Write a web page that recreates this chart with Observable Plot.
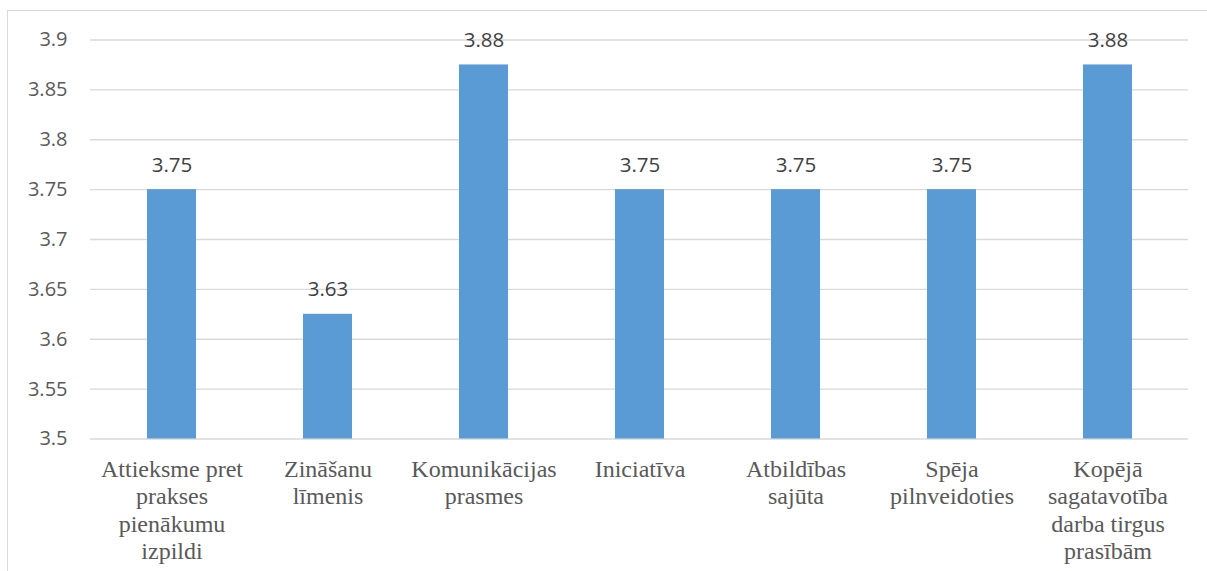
<!DOCTYPE html>
<html>
<head>
<meta charset="utf-8">
<script src="https://cdn.jsdelivr.net/npm/d3@7"></script>
<script src="https://cdn.jsdelivr.net/npm/@observablehq/plot@0.6"></script>
<style>
  html, body { margin: 0; padding: 0; background: #fff; }
  #wrap { position: relative; width: 1207px; height: 571px; overflow: hidden; }
  #frame { position: absolute; left: 7px; top: 10px; width: 1210px; height: 600px; border: 1px solid #d9d9d9; box-sizing: border-box; pointer-events: none; }
  #chart { position: absolute; left: 0; top: 0; }
  #chart g[aria-label="x-axis tick label"] text { font-family: "Liberation Serif", "Times New Roman", serif; }
  #chart g[aria-label="y-axis tick label"] text { font-family: "Open Sans", sans-serif; }
</style>
</head>
<body>
<div id="wrap"><div id="frame"></div><div id="chart"></div></div>
<script>
const categories = [
  "Attieksme pret\nprakses\npienākumu\nizpildi",
  "Zināšanu\nlīmenis",
  "Komunikācijas\nprasmes",
  "Iniciatīva",
  "Atbildības\nsajūta",
  "Spēja\npilnveidoties",
  "Kopējā\nsagatavotība\ndarba tirgus\nprasībām"
];
const values = [3.75, 3.625, 3.875, 3.75, 3.75, 3.75, 3.875];
const yTicks = [3.5, 3.55, 3.6, 3.65, 3.7, 3.75, 3.8, 3.85, 3.9];
const yMin = 3.5, yMax = 3.9;

const data = categories.map((c, i) => ({category: c, value: values[i]}));

const chart = Plot.plot({
  width: 1207,
  height: 571,
  marginLeft: 90,
  marginRight: 19,
  marginTop: 39.5,
  marginBottom: 132.5,
  style: {background: "transparent"},
  x: {domain: categories, paddingInner: 0.688, paddingOuter: 0.344, label: null},
  y: {domain: [yMin, yMax], ticks: yTicks, label: null},
  marks: [
    Plot.gridY(yTicks, {stroke: "#d9d9d9", strokeOpacity: 1, strokeWidth: 1.3}),
    Plot.barY(data, {x: "category", y1: yMin, y2: "value", fill: "#5b9bd5"}),
    Plot.text(data, {x: "category", y: "value", text: d => d3.format(".2f")(d.value), dy: -18,
      lineAnchor: "bottom", fontSize: 20.5, fill: "#404040", fontFamily: "'Open Sans', sans-serif"}),
    Plot.axisY(yTicks, {tickSize: 0, tickPadding: 23, tickFormat: d => String(+d.toFixed(2)),
      fontSize: 20, fill: "#595959", label: null}),
    Plot.axisX({tickSize: 0, tickPadding: 18, fontSize: 24, lineHeight: 1.15,
      fill: "#595959", label: null, lineAnchor: "top"})
  ]
});
document.getElementById("chart").appendChild(chart);
</script>
</body>
</html>
